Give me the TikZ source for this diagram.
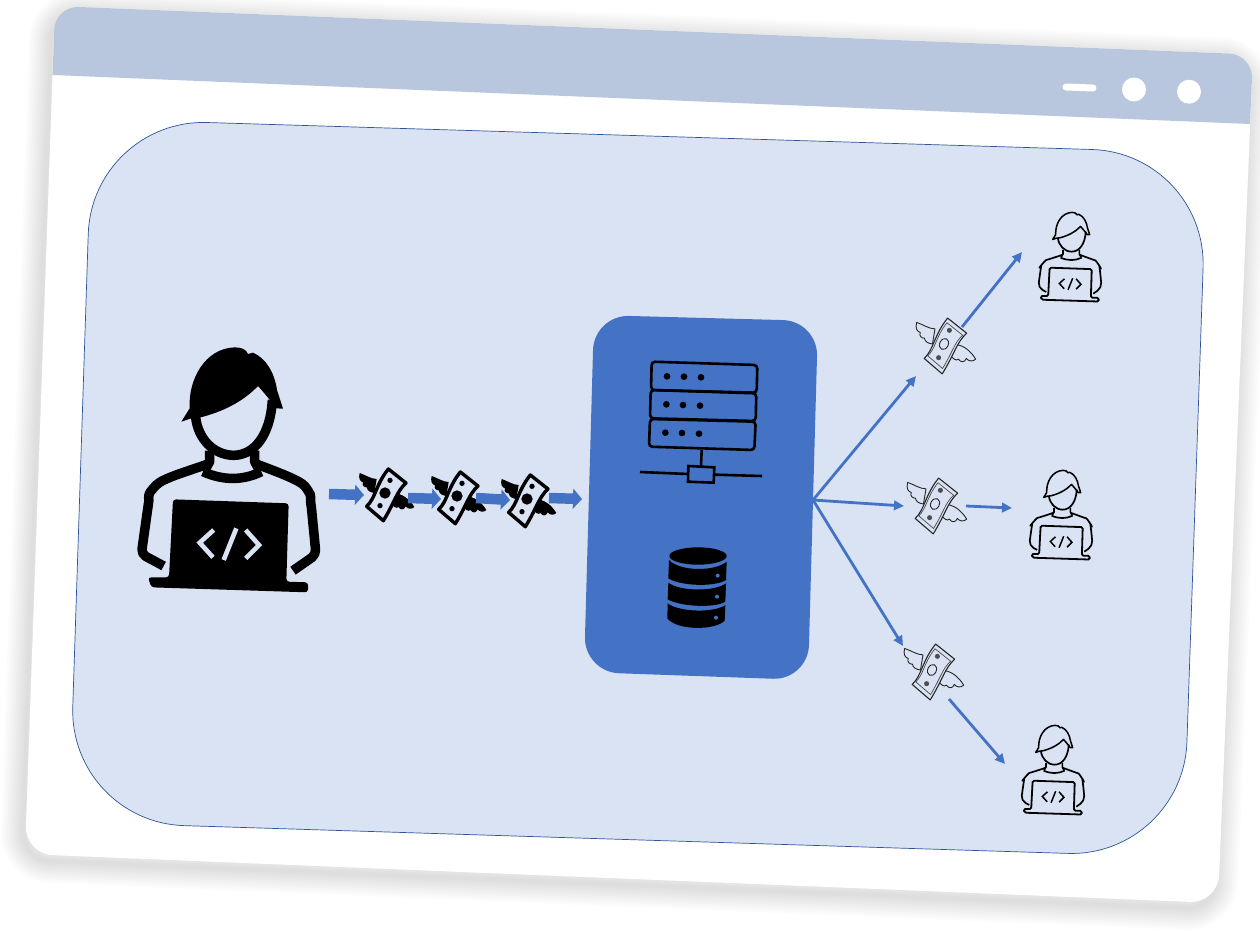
\documentclass[tikz,border=0pt]{standalone}
\usetikzlibrary{arrows.meta}
\definecolor{barc}{HTML}{B8C7DD}
\definecolor{panelc}{HTML}{DAE3F3}
\definecolor{panelb}{HTML}{2F5597}
\definecolor{boxc}{HTML}{4472C4}
\newcommand\hairpath{(185,275) -- (210,235) .. controls (205,150) and (255,55) .. (345,52) .. controls (365,52) and (380,58) .. (385,72) -- (400,68) .. controls (440,85) and (465,130) .. (472,180) -- (490,236) -- (470,235) .. controls (455,215) and (435,190) .. (415,168) .. controls (370,215) and (310,245) .. (243,262) -- (215,265) -- cycle}
\newcommand\personstrokes[1]{%
  \draw[#1] (228,262) .. controls (235,325) and (280,375) .. (342,376) .. controls (405,375) and (452,315) .. (458,210);
  \draw[#1] (270,362) -- (270,395) -- (255,422);
  \draw[#1] (405,362) -- (405,395) -- (420,422);
  \draw[#1] (250,425) .. controls (310,452) and (370,452) .. (425,425);
  \draw[#1,rounded corners=5pt] (265,402) .. controls (200,425) and (130,445) .. (100,475) .. controls (85,495) and (88,510) .. (85,530) -- (65,672) -- (132,708);
  \draw[#1,rounded corners=5pt] (410,402) .. controls (470,425) and (540,450) .. (565,480) .. controls (575,500) and (572,510) .. (575,530) -- (589,674) -- (520,722);
}
\newcommand\billpath{(10,-72) .. controls (28,-58) and (45,-44) .. (63,-30) .. controls (35,-5) and (28,30) .. (-5,83) .. controls (-20,70) and (-38,55) .. (-55,40) .. controls (-28,15) and (-28,-25) .. (10,-72) -- cycle}
\newcommand\wingl{(-25,-42) .. controls (-42,-42) and (-60,-55) .. (-76,-60) .. controls (-80,-45) and (-76,-35) .. (-66,-32) .. controls (-70,-22) and (-62,-16) .. (-54,-16) .. controls (-54,-6) and (-44,-2) .. (-32,0) -- cycle}
\newcommand\wingr{(24,2) .. controls (50,-2) and (75,20) .. (88,42) .. controls (80,50) and (68,48) .. (62,40) .. controls (58,52) and (46,52) .. (40,42) .. controls (34,48) and (26,42) .. (16,30) -- cycle}
\tikzset{
  x=1pt,y=-1pt,
  thinflow/.style={boxc,line width=2.8pt,-{Triangle[length=10pt,width=9.5pt]}},
  blockflow/.style={boxc,line width=10.5pt,-{Triangle[length=9pt,width=20pt]}},
  bigperson/.pic={
    \begin{scope}[shift={(-328,-420)}]
      \fill[black] \hairpath;
      \personstrokes{black,line width=9.5pt,line join=round}
      \fill[black,rounded corners=3pt] (160,508) -- (507,520) -- (500,755) -- (565,757) -- (565,787) -- (95,772) -- (85,742) -- (148,742) -- cycle;
      \draw[panelc,line width=4.6pt] (282,600) -- (240,638) -- (280,682);
      \draw[panelc,line width=4.6pt] (350,595) -- (312,690);
      \draw[panelc,line width=4.6pt] (378,600) -- (418,645) -- (378,685);
    \end{scope}
  },
  smallperson/.pic={
    \begin{scope}[shift={(-328,-420)}]
      \draw[black,line width=1.5pt,line join=round] \hairpath;
      \personstrokes{black,line width=1.7pt,line join=round}
      \draw[black,line width=1.8pt,rounded corners=1.5pt,fill=panelc] (160,508) -- (507,520) -- (500,755) -- (565,757) -- (565,787) -- (95,772) -- (85,742) -- (148,742) -- cycle;
      \draw[black,line width=1.5pt] (282,600) -- (240,638) -- (280,682);
      \draw[black,line width=1.5pt] (350,595) -- (312,690);
      \draw[black,line width=1.5pt] (378,600) -- (418,645) -- (378,685);
    \end{scope}
  },
  blackbill/.pic={
    \fill[black] \wingl;
    \fill[black] \wingr;
    \draw[black,line width=3.4pt,line join=round,fill=panelc] \billpath;
    \fill[black] (0,0) circle (17);
    \fill[black] (15,-38) circle (8);
    \fill[black] (-15,38) circle (8);
  },
  linebill/.pic={
    \draw[black!85,line width=.9pt,fill=panelc,line join=round] \wingl;
    \draw[black!85,line width=.9pt,fill=panelc,line join=round] \wingr;
    \draw[black!85,line width=1.1pt,fill=panelc,line join=round] \billpath;
    \draw[black!70,line width=.7pt,scale=.82] \billpath;
    \draw[black!85,line width=.9pt,rotate=-25] (0,0) ellipse (12 and 16);
    \fill[black!70] (15,-38) circle (7);
    \fill[black!70] (-15,38) circle (7);
  }
}
\begin{document}
\begin{tikzpicture}
\useasboundingbox (0,0) rectangle (1260,932);
% window shadow
\foreach \w in {44,40,36,32,28,24,20,16,12,8,4}{
  \draw[black,opacity=.012,line width=\w pt,rounded corners=28pt,line join=round]
    (52,12) -- (1250,60.5) -- (1215,909) -- (22,860) -- cycle;
}
% window
\fill[white,rounded corners=28pt] (55,6) -- (1253,54.5) -- (1218,903) -- (25,854) -- cycle;
\fill[barc] (52.6,75) [rounded corners=24pt] -- (55,6) -- (1253,54.5) [sharp corners] -- (1250,124) -- cycle;
\draw[white,line width=7pt,line cap=round] (1066,87) -- (1093,88);
\fill[white] (1134,89.5) circle (12);
\fill[white] (1189,91.7) circle (12);
% panel
\draw[panelb,line width=.7pt,fill=panelc,rounded corners=115pt] (92,119) -- (1207,153) -- (1183,857) -- (69,822) -- cycle;
% server box
\fill[boxc,rounded corners=35pt] (594,315) -- (818,321) -- (808,680) -- (584,672) -- cycle;
\begin{scope}[shift={(620,340)},scale=1/3]
  \begin{scope}[black,line width=2.6pt,rounded corners=3.5pt]
    \draw (95,65) -- (412,75) -- (410,158) -- (93,150) -- cycle;
    \draw (92,150) -- (409,160) -- (407,243) -- (90,235) -- cycle;
    \draw (90,237) -- (407,245) -- (403,330) -- (87,320) -- cycle;
  \end{scope}
  \foreach \p in {(141,109),(192,110),(243,112),(139,193),(189,195),(240,197),(136,278),(186,279),(237,281)}{
    \fill[black] \p circle (10);
  }
  \draw[black,line width=2.6pt] (245,330) -- (243,378);
  \draw[black,line width=2.6pt] (205,378) -- (283,382) -- (281,428) -- (204,425) -- cycle;
  \draw[black,line width=2.6pt] (60,396) -- (205,402);
  \draw[black,line width=2.6pt] (283,404) -- (426,408);
  % database
  \fill[black] (234,648) ellipse (86 and 26);
  \fill[black] (147,660) .. controls (180,695) and (285,695) .. (320,665) -- (318,720) .. controls (285,742) and (180,738) .. (145,715) -- cycle;
  \fill[black] (145,728) .. controls (180,755) and (285,755) .. (318,730) -- (316,785) .. controls (285,805) and (180,800) .. (143,778) -- cycle;
  \fill[black] (143,790) .. controls (180,818) and (285,818) .. (316,795) -- (314,842) .. controls (285,872) and (170,872) .. (142,835) -- cycle;
  \fill[boxc] (293,707) circle (6);
  \fill[boxc] (291,770) circle (6);
  \fill[boxc] (288,833) circle (6);
\end{scope}
% persons
\pic[scale=1/3] (dev) at (229,470) {bigperson};
\pic[scale=.1213] (userA) at (1070,257) {smallperson};
\pic[scale=.1213] (userB) at (1061,515) {smallperson};
\pic[scale=.1213] (userC) at (1053,770) {smallperson};
% bills
\pic[scale=1/3] (b1) at (385,493) {blackbill};
\pic[scale=1/3] (b2) at (457,496) {blackbill};
\pic[scale=1/3] (b3) at (527,499) {blackbill};
\pic[scale=.36] (b4) at (944,344) {linebill};
\pic[scale=.36] (b5) at (935,504) {linebill};
\pic[scale=.36] (b6) at (932,670) {linebill};
% connector ends
\coordinate (a1s) at (329,494);
\coordinate (a1e) at (364,495);
\coordinate (a2s) at (408,498);
\coordinate (a2e) at (441,499);
\coordinate (a3s) at (476,498);
\coordinate (a3e) at (510,500);
\coordinate (a4s) at (549,498);
\coordinate (a4e) at (582,499);
\coordinate (hub) at (813,500);
\coordinate (t1) at (916,376);
\coordinate (t2) at (904,506);
\coordinate (t3) at (903,646);
\coordinate (u1s) at (962,327);
\coordinate (u1e) at (1022,252);
\coordinate (u2s) at (966,506);
\coordinate (u2e) at (1012,508);
\coordinate (u3s) at (949,699);
\coordinate (u3e) at (1005,764);
\draw[blockflow] (a1s) -- (a1e);
\draw[blockflow] (a2s) -- (a2e);
\draw[blockflow] (a3s) -- (a3e);
\draw[blockflow] (a4s) -- (a4e);
\draw[thinflow] (hub) -- (t1);
\draw[thinflow] (hub) -- (t2);
\draw[thinflow] (hub) -- (t3);
\draw[thinflow] (u1s) -- (u1e);
\draw[thinflow] (u2s) -- (u2e);
\draw[thinflow] (u3s) -- (u3e);
\end{tikzpicture}
\end{document}
